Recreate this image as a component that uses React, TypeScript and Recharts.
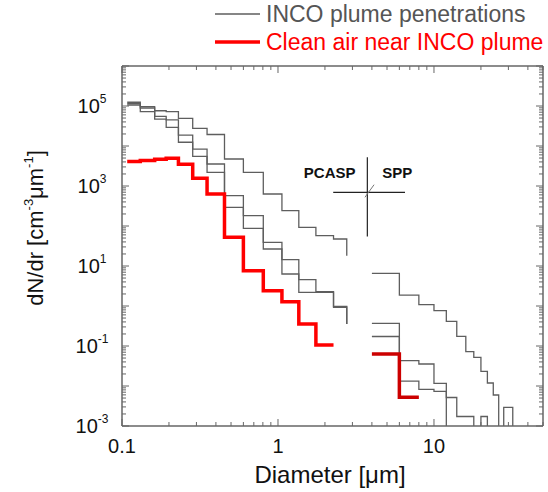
import React from 'react';
import {
  LineChart,
  Line,
  XAxis,
  YAxis,
  ReferenceLine,
  ReferenceDot,
  Legend,
  Label,
} from 'recharts';

const FONT = '"Liberation Sans", Arial, sans-serif';
const AXIS = '#666';
const GRAY = '#5e5e5e';
const RED = '#ff0000';
const DARK_RED = '#cc0000';
const OFF = 1e-5; // below the axis, i.e. no counts

// PCASP bin edges [um] and dN/dr per bin
const pcaspEdges = [0.108, 0.131, 0.162, 0.192, 0.23, 0.284, 0.351, 0.454, 0.6, 0.805, 1.06, 1.36, 1.75, 2.27, 2.76];
const plumeA = [1.24e5, 9.7e4, 7.6e4, 7.2e4, 4.9e4, 2.77e4, 1.94e4, 4730, 2200, 631, 241, 92.8, 57.2, 47.3];
const plumeB = [1.15e5, 8.9e4, 5.5e4, 4.5e4, 1.88e4, 8400, 3550, 572, 181, 39.1, 14.4, 4.54, 2.28, 0.98];
const plumeC = [1.06e5, 7.2e4, 4.7e4, 2.93e4, 1.24e4, 5530, 2200, 293, 87.6, 26.6, 6.31, 2.2, 2.2, 0.93];
const pcaspEnds = [18.1, 0.355, 0.355];
const cleanPcasp = [4100, 4340, 4650, 4925, 3490, 1560, 631, 52.2, 7.63, 2.41, 1.28, 0.355, 0.106];

// SPP bin edges [um] and dN/dr per bin
const sppEdges = [4, 6, 8, 10, 12, 14, 16, 18, 20, 22, 24, 26, 28, 32];
const sppA = [6.57, 1.88, 1.08, 0.763, 0.414, 0.175, 0.072, 0.0522, 0.0233, 0.0119, 0.00596, OFF, 0.00293];
const sppB = [0.369, 0.0429, 0.0355, 0.0116, 0.00516, 0.00173, 0.00173, OFF, 0.00173];
const sppC = [0.173, 0.0133, 0.0082, 0.0073];
const cleanSpp = [0.063, 0.0052];

const xLabelTicks = [0.1, 1, 10];
const yLabelTicks = [1e-3, 1e-1, 1e1, 1e3, 1e5];

const legendItems = [
  { label: 'INCO plume penetrations', color: GRAY, width: 1.3, text: '#555' },
  { label: 'Clean air near INCO plume', color: RED, width: 3.5, text: RED },
];

// PCASP / SPP crosshair, in data units
const crossV = [{ x: 3.74, y: 5220 }, { x: 3.74, y: 55 }];
const crossH = [{ x: 2.26, y: 696 }, { x: 6.52, y: 696 }];
const crossSlash = [{ x: 3.61, y: 522 }, { x: 4.13, y: 1078 }];
const instruments = [
  { name: 'PCASP', x: 2.145, y: 1558 },
  { name: 'SPP', x: 5.82, y: 1558 },
];

const steps = (edges: number[], vals: number[], end?: number) => [
  ...vals.map((v, i) => ({ d: edges[i], v })),
  { d: edges[vals.length], v: end ?? vals[vals.length - 1] },
];

const decadeTicks = (lo: number, hi: number) => {
  const out: number[] = [];
  for (let e = lo; e <= hi; e++) for (let m = 1; m <= 9; m++) out.push(m * 10 ** e);
  return out;
};
const xTicks = decadeTicks(-1, 1).filter((t) => t <= 50);
const yTicks = [...decadeTicks(-3, 5), 1e6];

const near = (a: number, b: number) => Math.abs(Math.log10(a) - Math.log10(b)) < 1e-6;
const isDecade = (v: number) => Math.abs(Math.log10(v) - Math.round(Math.log10(v))) < 1e-6;
const tickLen = (v: number) => (isDecade(v) ? 7 : 4);

const BottomTick = ({ x, y, payload }: any) => (
  <g>
    <line x1={x} x2={x} y1={y} y2={y - tickLen(payload.value)} stroke={AXIS} />
    {xLabelTicks.some((t) => near(t, payload.value)) && (
      <text x={x} y={y + 27} textAnchor="middle" fontSize={20} fontFamily={FONT} fill="#111">
        {String(xLabelTicks.find((t) => near(t, payload.value)))}
      </text>
    )}
  </g>
);

const TopTick = ({ x, y, payload }: any) => (
  <line x1={x} x2={x} y1={y} y2={y + tickLen(payload.value)} stroke={AXIS} />
);

const LeftTick = ({ x, y, payload }: any) => {
  const lbl = yLabelTicks.find((t) => near(t, payload.value));
  return (
    <g>
      <line x1={x} x2={x + tickLen(payload.value)} y1={y} y2={y} stroke={AXIS} />
      {lbl !== undefined && (
        <text x={x - 30} y={y + 7} textAnchor="middle" fontSize={20} fontFamily={FONT} fill="#111">
          10
          <tspan dy={-10} fontSize={12}>
            {String(Math.round(Math.log10(lbl)))}
          </tspan>
        </text>
      )}
    </g>
  );
};

const RightTick = ({ x, y, payload }: any) => (
  <line x1={x} x2={x - tickLen(payload.value)} y1={y} y2={y} stroke={AXIS} />
);

const XTitle = ({ viewBox }: any) => (
  <text x={viewBox.x + 208} y={viewBox.y + 57} textAnchor="middle" fontSize={24} fontFamily={FONT} fill="#111">
    Diameter [μm]
  </text>
);

const YTitle = ({ viewBox }: any) => {
  const cx = viewBox.x + 43;
  const cy = viewBox.y + 162;
  return (
    <text x={cx} y={cy} transform={`rotate(-90, ${cx}, ${cy})`} textAnchor="middle" fontSize={22} fontFamily={FONT} fill="#111">
      dN/dr [cm
      <tspan dy={-10} fontSize={13}>-3</tspan>
      <tspan dy={10}>μm</tspan>
      <tspan dy={-10} fontSize={13}>-1</tspan>
      <tspan dy={10}>]</tspan>
    </text>
  );
};

const LegendBox = () => (
  <svg width={548} height={60}>
    {legendItems.map((it, i) => (
      <g key={it.label}>
        <line x1={215} x2={260} y1={14 + i * 28} y2={14 + i * 28} stroke={it.color} strokeWidth={it.width} />
        <text x={266} y={22 + i * 28} fontSize={23} fontFamily={FONT} fill={it.text}>
          {it.label}
        </text>
      </g>
    ))}
  </svg>
);

const axisLine = { stroke: AXIS, strokeWidth: 1.5 };

const series = [
  { key: 'pA', data: steps(pcaspEdges, plumeA, pcaspEnds[0]), color: GRAY, w: 1.3 },
  { key: 'pB', data: steps(pcaspEdges, plumeB, pcaspEnds[1]), color: GRAY, w: 1.3 },
  { key: 'pC', data: steps(pcaspEdges, plumeC, pcaspEnds[2]), color: GRAY, w: 1.3 },
  { key: 'sA', data: steps(sppEdges, sppA, OFF), color: GRAY, w: 1.3 },
  { key: 'sB', data: steps(sppEdges, sppB, OFF), color: GRAY, w: 1.3 },
  { key: 'sC', data: steps(sppEdges, sppC, OFF), color: GRAY, w: 1.3 },
  { key: 'cP', data: steps(pcaspEdges, cleanPcasp), color: RED, w: 3.5 },
  { key: 'cS', data: steps(sppEdges, cleanSpp), color: DARK_RED, w: 3.5 },
];

export default function App() {
  return (
    <div style={{ position: 'absolute', left: 0, top: 0, background: '#fff' }}>
      <LineChart width={548} height={492} margin={{ top: 0, right: 0, bottom: 0, left: 0 }}>
        <XAxis
          xAxisId="b"
          dataKey="d"
          type="number"
          scale="log"
          domain={[0.1, 50]}
          allowDataOverflow
          ticks={xTicks}
          interval={0}
          tickSize={0}
          tickMargin={0}
          tickLine={false}
          axisLine={axisLine}
          height={66}
          tick={(p: any) => <BottomTick {...p} />}
        >
          <Label content={XTitle} />
        </XAxis>
        <XAxis
          xAxisId="t"
          orientation="top"
          dataKey="d"
          type="number"
          scale="log"
          domain={[0.1, 50]}
          allowDataOverflow
          ticks={xTicks}
          interval={0}
          tickSize={0}
          tickMargin={0}
          tickLine={false}
          axisLine={axisLine}
          height={66}
          tick={(p: any) => <TopTick {...p} />}
        />
        <YAxis
          yAxisId="l"
          type="number"
          scale="log"
          domain={[1e-3, 1e6]}
          allowDataOverflow
          ticks={yTicks}
          interval={0}
          tickSize={0}
          tickMargin={0}
          tickLine={false}
          axisLine={axisLine}
          width={122}
          tick={(p: any) => <LeftTick {...p} />}
        >
          <Label content={YTitle} />
        </YAxis>
        <YAxis
          yAxisId="r"
          orientation="right"
          type="number"
          scale="log"
          domain={[1e-3, 1e6]}
          allowDataOverflow
          ticks={yTicks}
          interval={0}
          tickSize={0}
          tickMargin={0}
          tickLine={false}
          axisLine={axisLine}
          width={5}
          tick={(p: any) => <RightTick {...p} />}
        />
        <Legend
          verticalAlign="middle"
          align="center"
          layout="horizontal"
          content={() => <LegendBox />}
          wrapperStyle={{ position: 'absolute', left: 0, top: 0, width: 548, height: 60 }}
        />
        {series.map((s) => (
          <Line
            key={s.key}
            xAxisId="b"
            yAxisId="l"
            data={s.data}
            dataKey="v"
            type="stepAfter"
            stroke={s.color}
            strokeWidth={s.w}
            dot={false}
            activeDot={false}
            legendType="none"
            isAnimationActive={false}
          />
        ))}
        <ReferenceLine xAxisId="b" yAxisId="l" segment={crossV} stroke="#222" strokeWidth={1.2} />
        <ReferenceLine xAxisId="b" yAxisId="l" segment={crossH} stroke="#222" strokeWidth={1.2} />
        <ReferenceLine xAxisId="b" yAxisId="l" segment={crossSlash} stroke="#777" strokeWidth={1} />
        {instruments.map((t) => (
          <ReferenceDot
            key={t.name}
            xAxisId="b"
            yAxisId="l"
            x={t.x}
            y={t.y}
            r={0}
            shape={(p: any) => (
              <text x={p.cx} y={p.cy} textAnchor="middle" fontSize={15} fontWeight="bold" fontFamily={FONT} fill="#111">
                {t.name}
              </text>
            )}
          />
        ))}
      </LineChart>
    </div>
  );
}
